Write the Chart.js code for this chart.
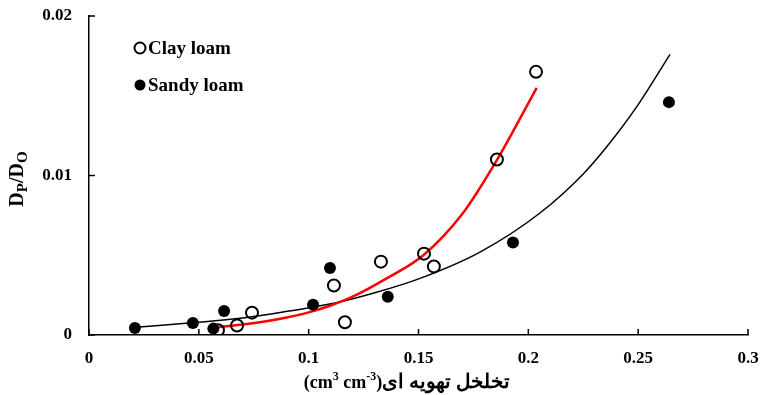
<!DOCTYPE html>
<html lang="fa">
<head>
    <meta charset="UTF-8">
    <title>Dp/Do</title>
    <script src="https://cdn.jsdelivr.net/npm/chart.js"></script>
    <style>
        body { margin: 0; padding: 0; background: #fff; }
        #wrap { width: 761px; height: 395px; }
    </style>
</head>
<body>
    <div id="wrap"><canvas id="chart"></canvas></div>

    <script>
        // measured points (air-filled porosity, Dp/Do)
        const clayX = [0.0587, 0.0674, 0.0742, 0.1115, 0.1165, 0.1329, 0.1525, 0.157, 0.1857, 0.2035];
        const clayY = [0.0003, 0.0006, 0.0014, 0.0031, 0.0008, 0.0046, 0.0051, 0.0043, 0.0110, 0.0165];
        const sandyX = [0.0209, 0.0473, 0.0566, 0.0615, 0.102, 0.1097, 0.136, 0.193, 0.264];
        const sandyY = [0.00044, 0.00075, 0.0004, 0.0015, 0.0019, 0.0042, 0.0024, 0.0058, 0.0146];

        // trend lines
        const clayFitX = [0.059, 0.07, 0.08, 0.09, 0.1, 0.11, 0.12, 0.1355, 0.1522, 0.17, 0.1856, 0.2038];
        const clayFitY = [0.0005, 0.00066, 0.00085, 0.0011, 0.00142, 0.00185, 0.0024, 0.00355, 0.0050, 0.0076, 0.01095, 0.0155];
        const sandyFitX = [0.0228, 0.0455, 0.07, 0.091, 0.112, 0.1305, 0.1507, 0.178, 0.2053, 0.225, 0.2357, 0.2493, 0.2645];
        const sandyFitY = [0.0005, 0.00075, 0.00106, 0.0015, 0.002, 0.00266, 0.00355, 0.0052, 0.00765, 0.0101, 0.0118, 0.0143, 0.0176];

        const xTicks = [0, 0.05, 0.1, 0.15, 0.2, 0.25, 0.3];
        const xTickLabels = ['0', '0.05', '0.1', '0.15', '0.2', '0.25', '0.3'];
        const yTicks = [0, 0.01, 0.02];
        const yTickLabels = ['0', '0.01', '0.02'];

        const legendNames = ['Clay loam', 'Sandy loam'];
        const persianTitle = 'تخلخل تهویه ای';

        const FONT = '"Liberation Serif", "Times New Roman", serif';

        function pts(xs, ys) {
            return xs.map((x, i) => ({ x: x, y: ys[i] }));
        }

        // tick marks pointing into the plot
        const insideTicks = {
            id: 'insideTicks',
            afterDraw(chart) {
                const ctx = chart.ctx;
                const xs = chart.scales.x, ys = chart.scales.y;
                ctx.save();
                ctx.strokeStyle = '#000';
                ctx.lineWidth = 1.5;
                ctx.beginPath();
                xTicks.forEach(v => {
                    const px = xs.getPixelForValue(v);
                    ctx.moveTo(px, ys.bottom);
                    ctx.lineTo(px, ys.bottom - 6);
                });
                yTicks.forEach(v => {
                    const py = ys.getPixelForValue(v);
                    ctx.moveTo(xs.left, py);
                    ctx.lineTo(xs.left + 6, py);
                });
                ctx.stroke();
                ctx.restore();
            }
        };

        // draws runs of text with sub/superscripts, centred on (0,0)
        function drawRuns(ctx, runs, size, subScale) {
            const small = Math.round(size * subScale);
            const fontOf = r => 'bold ' + (r.size || (r.s ? small : size)) + 'px ' + FONT;
            let total = 0;
            runs.forEach(r => {
                ctx.font = fontOf(r);
                r.w = ctx.measureText(r.t).width;
                total += r.w;
            });
            let x = -total / 2;
            runs.forEach(r => {
                ctx.font = fontOf(r);
                let dy = 0;
                if (r.s === 'sub') dy = size * 0.25;
                if (r.s === 'sup') dy = -size * 0.35;
                ctx.fillText(r.t, x, dy);
                x += r.w;
            });
        }

        const titlesAndLegend = {
            id: 'titlesAndLegend',
            afterDraw(chart) {
                const ctx = chart.ctx;
                ctx.save();
                ctx.fillStyle = '#000';
                ctx.textBaseline = 'middle';
                ctx.textAlign = 'left';

                // y title
                ctx.save();
                ctx.translate(18, 179);
                ctx.rotate(-Math.PI / 2);
                drawRuns(ctx, [
                    { t: 'D' }, { t: 'P', s: 'sub' }, { t: '/D' }, { t: 'O', s: 'sub' }
                ], 20, 0.75);
                ctx.restore();

                // x title
                ctx.save();
                ctx.translate(407, 383);
                drawRuns(ctx, [
                    { t: '(cm' }, { t: '3', s: 'sup' }, { t: ' cm' }, { t: '-3', s: 'sup' }, { t: ')' },
                    { t: persianTitle, size: 20 }
                ], 18, 0.65);
                ctx.restore();

                // legend inside the plot
                const rows = [48, 85];
                ctx.font = 'bold 19px ' + FONT;
                legendNames.forEach((name, i) => {
                    const y = rows[i];
                    ctx.beginPath();
                    ctx.arc(140, y, 5.5, 0, Math.PI * 2);
                    if (i === 0) {
                        ctx.lineWidth = 2;
                        ctx.strokeStyle = '#000';
                        ctx.stroke();
                    } else {
                        ctx.fill();
                    }
                    ctx.fillText(name, 148, y + 1);
                });
                ctx.restore();
            }
        };

        new Chart(document.getElementById('chart'), {
            type: 'scatter',
            data: {
                datasets: [
                    {
                        label: 'clay fit',
                        type: 'line',
                        data: pts(clayFitX, clayFitY),
                        borderColor: '#ff0000',
                        borderWidth: 2.5,
                        pointRadius: 0,
                        cubicInterpolationMode: 'monotone',
                        fill: false,
                        order: 3
                    },
                    {
                        label: 'sandy fit',
                        type: 'line',
                        data: pts(sandyFitX, sandyFitY),
                        borderColor: '#000',
                        borderWidth: 1.5,
                        pointRadius: 0,
                        cubicInterpolationMode: 'monotone',
                        fill: false,
                        order: 4
                    },
                    {
                        label: legendNames[0],
                        data: pts(clayX, clayY),
                        pointRadius: 6,
                        pointBorderWidth: 2,
                        pointBorderColor: '#000',
                        pointBackgroundColor: 'rgba(255,255,255,0)',
                        order: 2
                    },
                    {
                        label: legendNames[1],
                        data: pts(sandyX, sandyY),
                        pointRadius: 6,
                        pointBorderWidth: 0,
                        pointBackgroundColor: '#000',
                        order: 1
                    }
                ]
            },
            options: {
                responsive: true,
                maintainAspectRatio: false,
                animation: false,
                layout: { padding: { left: 0, right: 13, top: 16, bottom: 0 } },
                plugins: {
                    legend: { display: false },
                    tooltip: { enabled: false }
                },
                scales: {
                    x: {
                        type: 'linear',
                        min: 0,
                        max: 0.3,
                        afterBuildTicks: s => { s.ticks = xTicks.map(v => ({ value: v })); },
                        afterFit: s => { s.height = 60; s.paddingLeft = 0; s.paddingRight = 0; },
                        grid: { display: false, drawTicks: false },
                        border: { color: '#000', width: 1.5 },
                        ticks: {
                            padding: 13,
                            color: '#000',
                            font: { family: FONT, size: 17, weight: 'bold' },
                            callback: (v) => xTickLabels[xTicks.indexOf(v)]
                        }
                    },
                    y: {
                        type: 'linear',
                        min: 0,
                        max: 0.02,
                        afterBuildTicks: s => { s.ticks = yTicks.map(v => ({ value: v })); },
                        afterFit: s => { s.width = 89; s.paddingTop = 0; s.paddingBottom = 0; },
                        grid: { display: false, drawTicks: false },
                        border: { color: '#000', width: 1.5 },
                        ticks: {
                            padding: 17,
                            color: '#000',
                            font: { family: FONT, size: 17, weight: 'bold' },
                            callback: (v) => yTickLabels[yTicks.indexOf(v)]
                        }
                    }
                }
            },
            plugins: [insideTicks, titlesAndLegend]
        });
    </script>
</body>
</html>
